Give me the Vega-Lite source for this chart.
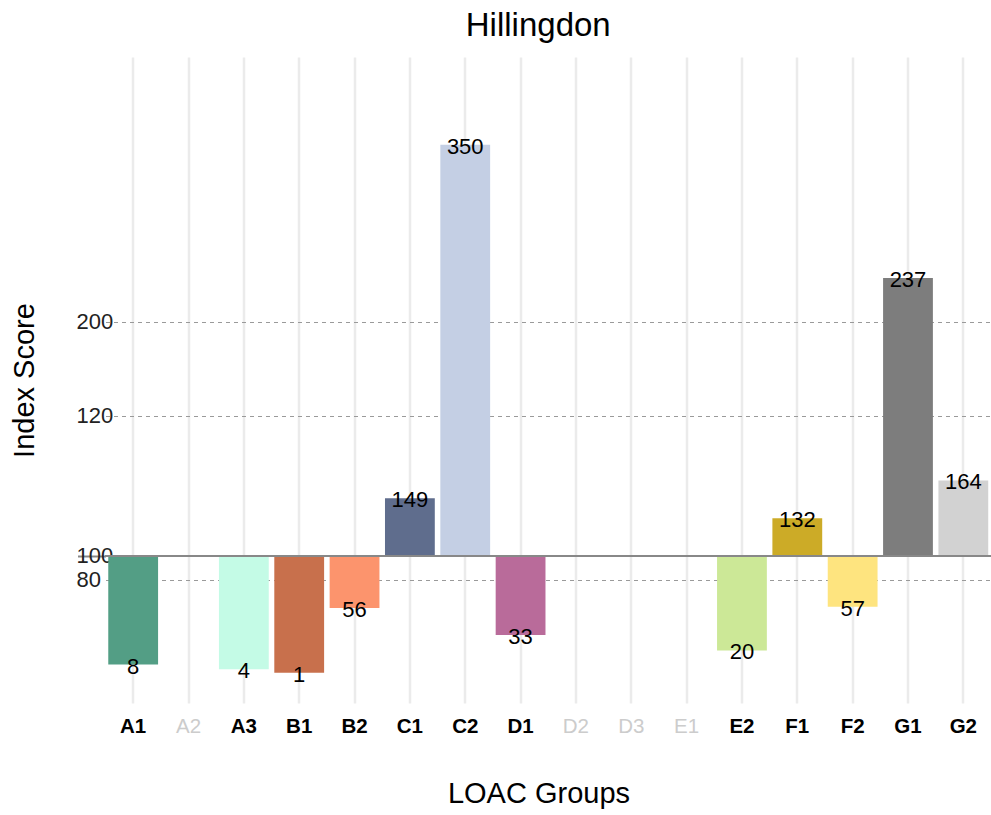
{
  "$schema": "https://vega.github.io/schema/vega-lite/v6.json",
  "width": 885.5,
  "height": 646,
  "autosize": {"type": "none"},
  "padding": {"left": 105.5, "top": 57, "right": 0, "bottom": 112},
  "background": "white",
  "config": {"view": {"stroke": null}, "font": "Liberation Sans"},
  "title": {
    "text": "Hillingdon",
    "fontSize": 33,
    "fontWeight": "normal",
    "font": "Liberation Sans",
    "color": "black",
    "anchor": "middle",
    "frame": "group",
    "dx": -10,
    "dy": 33,
    "offset": 21,
    "baseline": "alphabetic"
  },
  "data": {
    "values": [
      {"group": "A1", "score": 8},
      {"group": "A3", "score": 4},
      {"group": "B1", "score": 1},
      {"group": "B2", "score": 56},
      {"group": "C1", "score": 149},
      {"group": "C2", "score": 350},
      {"group": "D1", "score": 33},
      {"group": "E2", "score": 20},
      {"group": "F1", "score": 132},
      {"group": "F2", "score": 57},
      {"group": "G1", "score": 237},
      {"group": "G2", "score": 164}
    ]
  },
  "layer": [
    {
      "mark": {"type": "bar"},
      "encoding": {
        "x": {
          "field": "group",
          "type": "nominal",
          "sort": null,
          "scale": {
            "domain": ["A1", "A2", "A3", "B1", "B2", "C1", "C2", "D1", "D2", "D3", "E1", "E2", "F1", "F2", "G1", "G2"],
            "paddingInner": 0.1,
            "paddingOuter": 0.05
          },
          "axis": {
            "title": "LOAC Groups",
            "domain": false,
            "ticks": false,
            "grid": true,
            "gridColor": "#ebebeb",
            "gridWidth": 2.5,
            "bandPosition": 0.5,
            "labelAngle": 0,
            "labelFont": "Liberation Sans",
            "labelFontSize": 20.5,
            "labelFontWeight": {"condition": {"test": "indexof(['A2','D2','D3','E1'], datum.value) >= 0", "value": "normal"}, "value": "bold"},
            "labelColor": {"condition": {"test": "indexof(['A2','D2','D3','E1'], datum.value) >= 0", "value": "#cccccc"}, "value": "#000000"},
            "labelPadding": 13,
            "titleFont": "Liberation Sans",
            "titleFontSize": 29,
            "titleFontWeight": "normal",
            "titleColor": "#000000",
            "titleX": 433,
            "titleY": 99,
            "titleBaseline": "alphabetic",
            "titleAlign": "center"
          }
        },
        "y": {
          "field": "score",
          "type": "quantitative",
          "scale": {
            "type": "linear",
            "domain": [-24.6, 170, 200, 424.3],
            "range": [646, 416.4, 264.7, 0],
            "nice": false,
            "zero": false
          },
          "axis": {
            "title": "Index Score",
            "values": [80, 100, 181.4, 200],
            "labelExpr": "datum.value == 181.4 ? '120' : datum.label",
            "grid": true,
            "gridDash": [4, 4],
            "gridColor": "#9a9a9a",
            "gridWidth": 1,
            "domain": false,
            "ticks": true,
            "tickSize": 28,
            "tickWidth": 2,
            "tickColor": {"condition": {"test": "datum.value == 100", "value": "#888888"}, "value": "transparent"},
            "labelAlign": "left",
            "labelPadding": 1.5,
            "labelFont": "Liberation Sans",
            "labelFontSize": 22,
            "labelColor": "#222222",
            "titleFont": "Liberation Sans",
            "titleFontSize": 29,
            "titleFontWeight": "normal",
            "titleColor": "#000000",
            "titleX": -72,
            "titleY": 323,
            "titleAngle": 270,
            "titleBaseline": "alphabetic",
            "titleAlign": "center"
          }
        },
        "y2": {"datum": 100},
        "color": {
          "field": "group",
          "type": "nominal",
          "legend": null,
          "scale": {
            "domain": ["A1", "A3", "B1", "B2", "C1", "C2", "D1", "E2", "F1", "F2", "G1", "G2"],
            "range": ["#539e85", "#c4fbe6", "#c8704c", "#fc946d", "#5f6d8d", "#c4cfe4", "#b96b9a", "#cce897", "#ccab27", "#fee47f", "#7d7d7d", "#d2d2d2"]
          }
        }
      }
    },
    {
      "mark": {"type": "rule", "color": "#888888", "strokeWidth": 2},
      "encoding": {"y": {"datum": 100}}
    },
    {
      "mark": {"type": "text", "fontSize": 22, "baseline": "middle", "align": "center", "dy": 2, "color": "#000000", "font": "Liberation Sans"},
      "encoding": {
        "x": {"field": "group", "type": "nominal", "sort": null},
        "y": {"field": "score", "type": "quantitative"},
        "text": {"field": "score", "type": "quantitative"}
      }
    }
  ]
}
